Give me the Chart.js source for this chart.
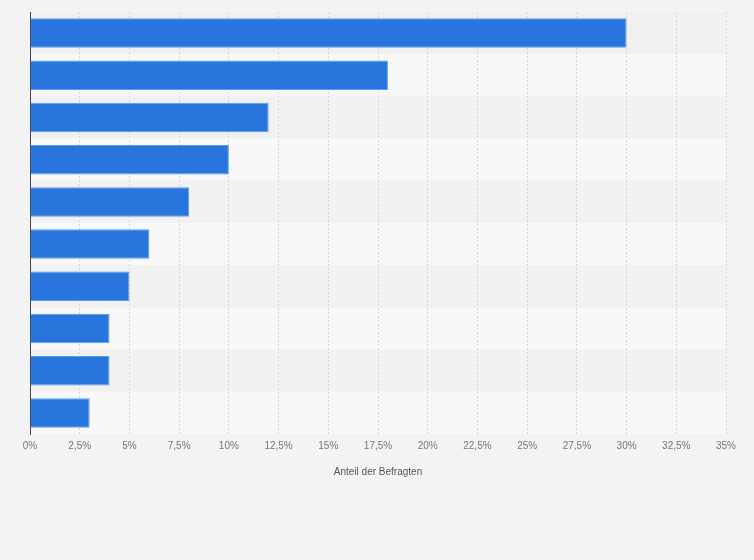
<!DOCTYPE html>
<html><head><meta charset="utf-8">
<script src="https://cdn.jsdelivr.net/npm/chart.js@4"></script>
<style>html,body{margin:0;background:#f3f3f3}#w{width:754px;height:560px}</style>
</head><body><div id="w"><canvas id="c"></canvas></div>
<script>
const categories = ["1","2","3","4","5","6","7","8","9","10"];
const values = [30, 18, 12, 10, 8, 6, 5, 4, 4, 3];
const xTicks = ["0%","2,5%","5%","7,5%","10%","12,5%","15%","17,5%","20%","22,5%","25%","27,5%","30%","32,5%","35%"];
const bands = {
  id:'bands',
  beforeDraw(ch){
    const {ctx, chartArea:a, scales:{y}} = ch;
    const n = categories.length, h = (a.bottom - a.top)/n;
    for(let i=0;i<n;i++){
      ctx.fillStyle = i%2===0 ? '#f1f1f1' : '#f8f8f8';
      ctx.fillRect(a.left, a.top + i*h, a.right-a.left, h);
    }
  }
};
new Chart(document.getElementById('c'), {
  type:'bar',
  data:{labels:categories, datasets:[{data:values, backgroundColor:'#2876dd', borderColor:'#5a9cf0', borderWidth:{right:1,top:1,bottom:1}, barPercentage:0.7, categoryPercentage:1}]},
  options:{
    indexAxis:'y', responsive:true, maintainAspectRatio:false, animation:false,
    layout:{padding:{left:0,right:28,top:12,bottom:78}},
    plugins:{legend:{display:false}, tooltip:{enabled:false}},
    scales:{
      x:{min:0,max:35,
        ticks:{stepSize:2.5, color:'#777', font:{family:'Liberation Sans',size:10}, padding:6,
          callback:(v,i)=>xTicks[i]},
        grid:{color:'#d6d6d6', borderDash:[2,2], drawTicks:false},
        border:{display:false, dash:[2,2]},
        title:{display:true,text:'Anteil der Befragten',color:'#555',font:{family:'Liberation Sans',size:10},padding:{top:8}}
      },
      y:{ticks:{display:false}, grid:{display:false,drawTicks:false}, afterFit(s){s.width=30;},
        border:{display:true,color:'#444',width:1}}
    }
  },
  plugins:[bands]
});
</script></body></html>
